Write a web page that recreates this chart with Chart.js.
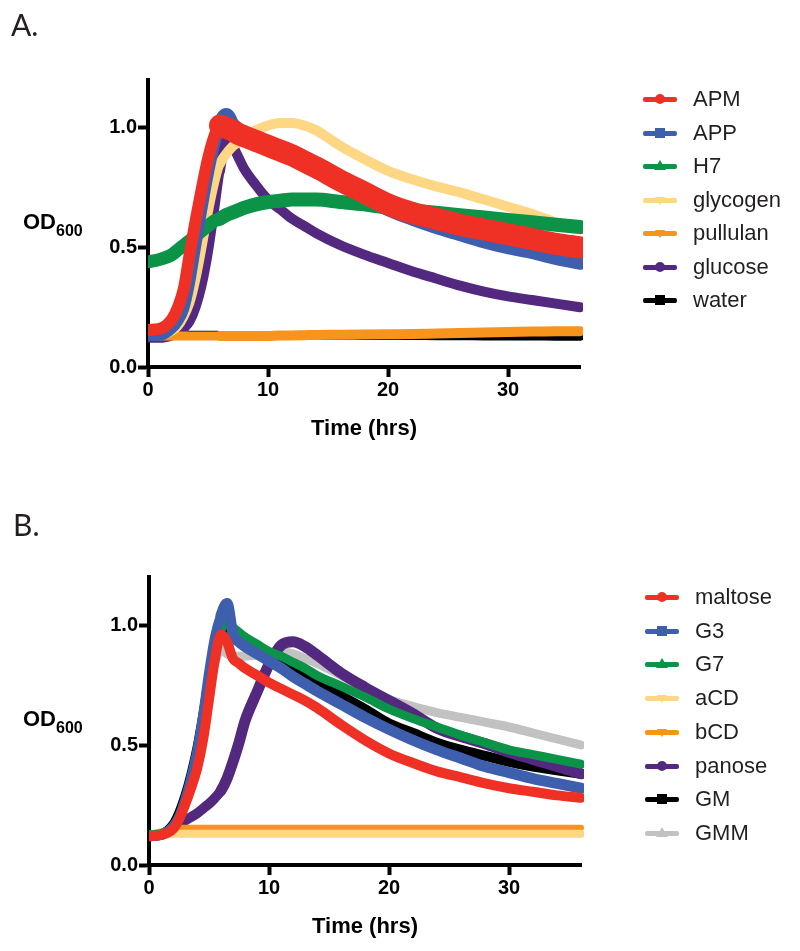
<!DOCTYPE html>
<html>
<head>
<meta charset="utf-8">
<script src="https://cdn.jsdelivr.net/npm/chart.js@4.4.1/dist/chart.umd.min.js"></script>
<style>
    body { margin: 0; background: #fff; }
    #page { position: relative; width: 800px; height: 951px; overflow: hidden; font-family: "Liberation Sans", Arial, sans-serif; color: #231f20; }
    .panel { position: absolute; left: 0; width: 800px; }
    .panel canvas { position: absolute; left: 0; top: 0; }
    .tag { position: absolute; font-family: Lato, "Open Sans", sans-serif; font-size: 30px; line-height: 30px; }
    .ylab { position: absolute; left: 23px; font-weight: bold; font-size: 22px; line-height: 22px; color: #000; white-space: nowrap; }
    .ylab span { position: relative; top: 7px; font-size: 16px; }
    .legend-row { position: absolute; height: 34px; line-height: 34px; font-size: 22px; white-space: nowrap; }
    .legend-row .sym { position: absolute; left: 0; top: 15px; width: 34px; height: 5px; border-radius: 2px; }
    .legend-row .mk { position: absolute; }
    .legend-row .txt { position: absolute; left: 50px; top: 0; }
</style>
</head>
<body>
<div id="page">
    <div class="panel" id="panelA" style="top:0;height:475px;">
        <canvas id="chartA" width="800" height="475"></canvas>
        <div class="tag" style="left:11px;top:9px;">A.</div>
        <div class="ylab" style="top:211px;">OD<span>600</span></div>
        <div id="legendA"></div>
    </div>
    <div class="panel" id="panelB" style="top:475px;height:476px;">
        <canvas id="chartB" width="800" height="476"></canvas>
        <div class="tag" style="left:13px;top:34px;">B.</div>
        <div class="ylab" style="top:233px;">OD<span>600</span></div>
        <div id="legendB"></div>
    </div>
</div>

<script>
// Sampling times (hrs)
const hours = [0, 1, 2, 2.5, 3, 3.5, 4, 4.5, 5, 5.5, 6, 6.5, 7, 7.5, 8, 9, 10, 11, 12, 13, 14, 16, 18, 20, 22, 24, 26, 28, 30, 32, 34, 36];
const xTicks = [0, 10, 20, 30];
const yTicks = [0, 0.5, 1.0];

// Panel A
const labelsA = ['APM', 'APP', 'H7', 'glycogen', 'pullulan', 'glucose', 'water'];
const apm      = [0.155, 0.16, 0.20, 0.25, 0.33, 0.48, 0.62, 0.75, 0.87, 0.96, 1.01, 1.00, 0.99, 0.975, 0.965, 0.945, 0.925, 0.905, 0.885, 0.86, 0.835, 0.78, 0.73, 0.68, 0.645, 0.62, 0.595, 0.575, 0.555, 0.535, 0.515, 0.50];
const app      = [0.13, 0.13, 0.16, 0.19, 0.24, 0.35, 0.50, 0.65, 0.79, 0.91, 1.00, 1.05, 1.01, 0.99, 0.975, 0.95, 0.93, 0.905, 0.88, 0.855, 0.83, 0.775, 0.72, 0.665, 0.625, 0.59, 0.56, 0.53, 0.505, 0.485, 0.46, 0.44];
const h7       = [0.44, 0.45, 0.47, 0.49, 0.51, 0.53, 0.55, 0.57, 0.59, 0.61, 0.62, 0.635, 0.645, 0.655, 0.665, 0.68, 0.69, 0.695, 0.70, 0.70, 0.70, 0.69, 0.68, 0.665, 0.655, 0.645, 0.635, 0.625, 0.615, 0.605, 0.595, 0.585];
const glycogen = [0.13, 0.13, 0.15, 0.17, 0.21, 0.27, 0.37, 0.50, 0.64, 0.76, 0.85, 0.89, 0.92, 0.94, 0.96, 0.99, 1.01, 1.02, 1.02, 1.01, 0.99, 0.925, 0.87, 0.82, 0.785, 0.755, 0.73, 0.70, 0.67, 0.64, 0.605, 0.575];
const pullulan = [0.13, 0.13, 0.13, 0.13, 0.13, 0.13, 0.13, 0.13, 0.13, 0.13, 0.13, 0.13, 0.13, 0.13, 0.13, 0.13, 0.13, 0.132, 0.132, 0.133, 0.134, 0.135, 0.136, 0.137, 0.138, 0.14, 0.142, 0.144, 0.146, 0.148, 0.15, 0.15];
const glucose  = [0.12, 0.12, 0.13, 0.14, 0.16, 0.19, 0.25, 0.34, 0.47, 0.64, 0.82, 0.95, 0.93, 0.88, 0.83, 0.76, 0.70, 0.66, 0.62, 0.59, 0.56, 0.51, 0.47, 0.435, 0.40, 0.37, 0.34, 0.315, 0.295, 0.28, 0.265, 0.25];
const water    = [0.135, 0.135, 0.135, 0.135, 0.135, 0.135, 0.135, 0.135, 0.135, 0.135, 0.134, 0.134, 0.134, 0.134, 0.133, 0.133, 0.133, 0.132, 0.132, 0.132, 0.131, 0.131, 0.13, 0.13, 0.13, 0.129, 0.129, 0.128, 0.128, 0.128, 0.127, 0.127];

// Panel B
const labelsB = ['maltose', 'G3', 'G7', 'aCD', 'bCD', 'panose', 'GM', 'GMM'];
const maltose = [0.12, 0.125, 0.15, 0.19, 0.25, 0.32, 0.40, 0.52, 0.69, 0.86, 0.96, 0.93, 0.86, 0.84, 0.82, 0.79, 0.76, 0.735, 0.71, 0.685, 0.655, 0.585, 0.52, 0.465, 0.425, 0.39, 0.365, 0.34, 0.32, 0.305, 0.29, 0.28];
const g3      = [0.12, 0.125, 0.16, 0.20, 0.27, 0.36, 0.47, 0.62, 0.80, 0.95, 1.04, 1.09, 0.96, 0.93, 0.91, 0.88, 0.85, 0.82, 0.785, 0.755, 0.725, 0.67, 0.615, 0.565, 0.52, 0.48, 0.445, 0.41, 0.385, 0.36, 0.34, 0.32];
const g7      = [0.125, 0.13, 0.16, 0.20, 0.26, 0.35, 0.46, 0.60, 0.76, 0.90, 0.98, 1.01, 0.99, 0.97, 0.95, 0.92, 0.89, 0.87, 0.845, 0.82, 0.79, 0.745, 0.70, 0.65, 0.61, 0.575, 0.54, 0.51, 0.48, 0.46, 0.44, 0.42];
const aCD     = [0.125, 0.127, 0.13, 0.13, 0.13, 0.13, 0.13, 0.13, 0.13, 0.13, 0.13, 0.13, 0.13, 0.13, 0.13, 0.13, 0.13, 0.13, 0.13, 0.13, 0.13, 0.13, 0.13, 0.13, 0.13, 0.13, 0.13, 0.13, 0.13, 0.13, 0.13, 0.13];
const bCD     = [0.13, 0.14, 0.15, 0.155, 0.155, 0.155, 0.155, 0.155, 0.155, 0.155, 0.155, 0.155, 0.155, 0.155, 0.155, 0.155, 0.155, 0.155, 0.155, 0.155, 0.155, 0.155, 0.155, 0.155, 0.155, 0.155, 0.155, 0.155, 0.155, 0.155, 0.155, 0.155];
const panose  = [0.12, 0.125, 0.15, 0.165, 0.185, 0.20, 0.215, 0.235, 0.255, 0.28, 0.31, 0.36, 0.43, 0.51, 0.60, 0.72, 0.835, 0.915, 0.93, 0.91, 0.875, 0.80, 0.74, 0.685, 0.63, 0.57, 0.535, 0.505, 0.47, 0.44, 0.41, 0.38];
const gm      = [0.125, 0.13, 0.17, 0.22, 0.29, 0.38, 0.49, 0.63, 0.79, 0.93, 1.02, 0.99, 0.96, 0.94, 0.92, 0.89, 0.86, 0.84, 0.81, 0.785, 0.76, 0.705, 0.65, 0.59, 0.55, 0.51, 0.48, 0.455, 0.43, 0.41, 0.395, 0.38];
const gmm     = [0.125, 0.13, 0.16, 0.20, 0.26, 0.35, 0.45, 0.58, 0.72, 0.84, 0.90, 0.88, 0.87, 0.87, 0.87, 0.875, 0.88, 0.89, 0.88, 0.86, 0.84, 0.79, 0.74, 0.69, 0.66, 0.635, 0.615, 0.595, 0.575, 0.55, 0.525, 0.50];

// Styles (line width before / after the peak: the error bars widen the band later on)
const RED = '#ee3124', BLUE = '#3e5fad', GREEN = '#0b9347', YELLOW = '#fed784', ORANGE = '#f7941d', PURPLE = '#53287f', BLACK = '#000000', GREY = '#c2c2c2';
const colorsA = [RED, BLUE, GREEN, YELLOW, ORANGE, PURPLE, BLACK];
const earlyA  = [12, 10, 13, 9, 9, 9, 8];
const widthsA = [22, 16, 14, 10, 10, 10, 8];
const marksA  = ['circle', 'square', 'triangle', 'tdown', 'tdown', 'circle', 'square'];
const colorsB = [RED, BLUE, GREEN, YELLOW, ORANGE, PURPLE, BLACK, GREY];
const earlyB  = [10, 10, 9, 8, 6, 10, 9, 9];
const widthsB = [10, 11, 9, 8, 6, 11, 10, 9];
const marksB  = ['circle', 'square', 'triangle', 'tdown', 'tdown', 'circle', 'square', 'triangle'];

Chart.defaults.font.family = '"Liberation Sans", Arial, sans-serif';

function axes() {
    const tickFont = { size: 20, weight: 'bold' };
    const grid = { drawOnChartArea: false, drawTicks: true, tickLength: 10, tickWidth: 4, color: '#000', tickColor: '#000' };
    return {
        x: {
            type: 'linear', min: 0, max: 36,
            afterBuildTicks: s => { s.ticks = xTicks.map(v => ({ value: v })); },
            afterFit: s => { s.height = 80; },
            border: { width: 4, color: '#000' },
            grid,
            ticks: { color: '#000', font: tickFont, padding: 1, maxRotation: 0, autoSkip: false },
            title: { display: true, text: 'Time (hrs)', color: '#000', font: { size: 22, weight: 'bold' }, padding: { top: 0, bottom: 5 } }
        },
        y: {
            type: 'linear', min: 0, max: 1.2,
            afterBuildTicks: s => { s.ticks = yTicks.map(v => ({ value: v })); },
            afterFit: s => { s.width = 60; },
            border: { width: 4, color: '#000' },
            grid,
            ticks: { color: '#000', font: tickFont, padding: 1, callback: v => v.toFixed(1) }
        }
    };
}

function makeChart(id, labels, series, colors, early, widths, padding) {
    const datasets = labels.map((name, i) => ({
        label: name,
        data: series[i].map((v, k) => ({ x: hours[k], y: v })),
        borderColor: colors[i],
        backgroundColor: colors[i],
        borderWidth: widths[i],
        segment: { borderWidth: c => (c.p0.parsed.x < 6 ? early[i] : widths[i]) },
        pointRadius: 0,
        cubicInterpolationMode: 'monotone',
        borderJoinStyle: 'round',
        borderCapStyle: 'round',
        clip: { left: 0, right: 3, top: false, bottom: false }
    }));
    return new Chart(document.getElementById(id), {
        type: 'line',
        data: { datasets },
        options: {
            responsive: false,
            animation: false,
            layout: { padding },
            plugins: { legend: { display: false }, tooltip: { enabled: false } },
            scales: axes()
        }
    });
}

function markerHtml(shape, color) {
    if (shape === 'circle') return `<div class="mk" style="left:12px;top:12px;width:10px;height:10px;border-radius:50%;background:${color}"></div>`;
    if (shape === 'square') return `<div class="mk" style="left:12px;top:12px;width:10px;height:10px;background:${color}"></div>`;
    if (shape === 'triangle') return `<div class="mk" style="left:11px;top:11px;width:0;height:0;border-left:6px solid transparent;border-right:6px solid transparent;border-bottom:10px solid ${color}"></div>`;
    return `<div class="mk" style="left:12px;top:14px;width:0;height:0;border-left:5px solid transparent;border-right:5px solid transparent;border-top:8px solid ${color}"></div>`;
}

// HTML legend built from the chart datasets
function buildLegend(chart, boxId, marks, left, firstTop, step) {
    document.getElementById(boxId).innerHTML = chart.data.datasets.map((d, i) => `
        <div class="legend-row" style="left:${left}px;top:${firstTop + i * step}px;">
            <div class="sym" style="background:${d.borderColor}"></div>
            ${markerHtml(marks[i], d.borderColor)}
            <div class="txt">${d.label}</div>
        </div>
    `).join('');
}

const chartA = makeChart('chartA', labelsA, [apm, app, h7, glycogen, pullulan, glucose, water], colorsA, earlyA, widthsA,
    { left: 88, right: 220, top: 80, bottom: 28 });
const chartB = makeChart('chartB', labelsB, [maltose, g3, g7, aCD, bCD, panose, gm, gmm], colorsB, earlyB, widthsB,
    { left: 89, right: 219, top: 102, bottom: 6 });

buildLegend(chartA, 'legendA', marksA, 643, 82, 33.5);
buildLegend(chartB, 'legendB', marksB, 645, 105, 33.7);
</script>
</body>
</html>
